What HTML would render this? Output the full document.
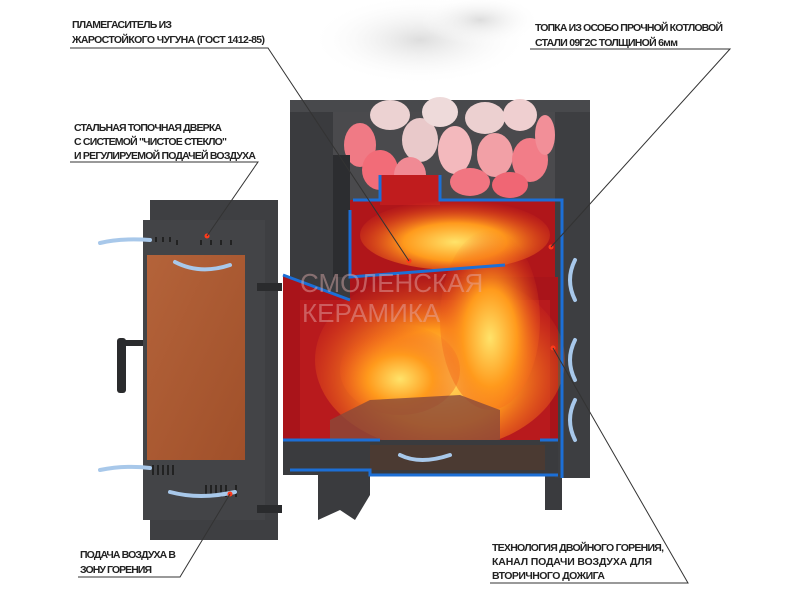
<!DOCTYPE html>
<html><head><meta charset="utf-8"><style>
html,body{margin:0;padding:0;background:#fff;width:800px;height:600px;overflow:hidden}
svg{display:block}
.t{font-family:"Liberation Sans",sans-serif;font-weight:bold;font-size:10.5px;fill:#222}
</style></head><body>
<svg width="800" height="600" viewBox="0 0 800 600" xmlns="http://www.w3.org/2000/svg">
<defs>
<radialGradient id="fire" cx="0.5" cy="0.6" r="0.6">
<stop offset="0" stop-color="#ffe36a"/><stop offset="0.45" stop-color="#ff9a1c"/><stop offset="1" stop-color="#e8401a" stop-opacity="0"/>
</radialGradient>
<radialGradient id="smoke" cx="0.5" cy="0.5" r="0.5">
<stop offset="0" stop-color="#ddd"/><stop offset="1" stop-color="#fff" stop-opacity="0"/>
</radialGradient>
<linearGradient id="glass" x1="0" y1="0" x2="1" y2="1"><stop offset="0" stop-color="#b4633a"/><stop offset="1" stop-color="#a0502a"/></linearGradient>
</defs>
<ellipse cx="420" cy="40" rx="110" ry="45" fill="url(#smoke)"/>
<ellipse cx="480" cy="20" rx="60" ry="25" fill="url(#smoke)"/>
<path d="M290 100 L590 100 L590 478 L562 478 L562 510 L545 510 L545 470 L370 470 L370 495 L355 520 L340 510 L318 520 L318 470 L290 470 Z" fill="#3a3b3e"/>
<rect x="290" y="100" width="300" height="12" fill="#48494c"/>
<rect x="333" y="112" width="230" height="90" fill="#4a4a4d"/>
<g>
<ellipse cx="360" cy="145" rx="16" ry="22" fill="#f07a85"/>
<ellipse cx="380" cy="170" rx="18" ry="20" fill="#f26c78"/>
<ellipse cx="390" cy="115" rx="20" ry="15" fill="#ecd2d2"/>
<ellipse cx="420" cy="140" rx="18" ry="22" fill="#e9c9ca"/>
<ellipse cx="410" cy="175" rx="16" ry="18" fill="#f08a94"/>
<ellipse cx="440" cy="112" rx="18" ry="15" fill="#eedada"/>
<ellipse cx="455" cy="150" rx="17" ry="24" fill="#f3b9bd"/>
<ellipse cx="485" cy="118" rx="20" ry="16" fill="#ecd0d0"/>
<ellipse cx="495" cy="155" rx="18" ry="22" fill="#f2a0a6"/>
<ellipse cx="470" cy="182" rx="20" ry="14" fill="#f17581"/>
<ellipse cx="520" cy="115" rx="17" ry="16" fill="#efcfd0"/>
<ellipse cx="530" cy="160" rx="18" ry="22" fill="#f27d88"/>
<ellipse cx="510" cy="185" rx="18" ry="13" fill="#f06674"/>
<ellipse cx="545" cy="135" rx="10" ry="20" fill="#f28f98"/>
</g>
<rect x="350" y="200" width="212" height="77" fill="#b0161a"/>
<rect x="380" y="175" width="60" height="30" fill="#c01c1e"/>
<rect x="333" y="155" width="17" height="122" fill="#2c2d30"/>
<rect x="555" y="112" width="35" height="366" fill="#3d3e41"/>
<path d="M283 275 L350 300 L350 277 L558 277 L558 440 L283 440 Z" fill="#a9141a"/>
<rect x="300" y="300" width="250" height="140" fill="#b81a1d"/>
<ellipse cx="440" cy="360" rx="125" ry="90" fill="url(#fire)"/>
<ellipse cx="455" cy="235" rx="95" ry="35" fill="url(#fire)"/>
<ellipse cx="490" cy="320" rx="50" ry="90" fill="url(#fire)"/>
<ellipse cx="400" cy="370" rx="60" ry="45" fill="url(#fire)"/>
<path d="M330 420 L370 400 L460 395 L500 410 L500 440 L330 440 Z" fill="#8a4a3a" opacity="0.8"/>
<rect x="283" y="440" width="275" height="35" fill="#3a3b3e"/>
<rect x="370" y="445" width="175" height="25" fill="#4b3a32"/>
<g fill="none" stroke="#1c6fd6" stroke-width="3">
<path d="M350 210 L350 277 L505 265"/>
<path d="M353 200 L380 200 L380 175 M440 175 L440 200 L562 200 L562 440"/>
<path d="M283 275 L350 300"/>
<path d="M283 440 L380 440 M540 440 L558 440"/>
<path d="M290 470 L370 470 L370 475 L558 475"/>
<path d="M562 440 L562 478"/>
</g>
<rect x="150" y="200" width="128" height="340" fill="#3e3f42"/>
<rect x="143" y="220" width="122" height="300" fill="#434447"/>
<rect x="147" y="255" width="98" height="205" fill="url(#glass)"/>
<rect x="257" y="283" width="25" height="8" fill="#2a2b2d"/>
<rect x="257" y="505" width="25" height="8" fill="#2a2b2d"/>
<rect x="118" y="340" width="25" height="6" fill="#2a2b2d"/>
<rect x="117" y="338" width="9" height="55" rx="3" fill="#2a2b2d"/>
<g fill="#222">
<rect x="155" y="237" width="2" height="5"/><rect x="162" y="237" width="2" height="5"/><rect x="169" y="237" width="2" height="5"/>
<rect x="176" y="240" width="2" height="5"/><rect x="200" y="240" width="2" height="5"/><rect x="210" y="240" width="2" height="5"/><rect x="220" y="240" width="2" height="5"/><rect x="230" y="240" width="2" height="5"/>
<rect x="152" y="465" width="2" height="10"/><rect x="157" y="465" width="2" height="10"/><rect x="162" y="465" width="2" height="10"/><rect x="167" y="465" width="2" height="10"/><rect x="172" y="465" width="2" height="10"/>
<rect x="205" y="485" width="2" height="12"/><rect x="210" y="485" width="2" height="12"/><rect x="215" y="485" width="2" height="12"/><rect x="220" y="485" width="2" height="12"/><rect x="225" y="485" width="2" height="12"/><rect x="235" y="485" width="2" height="12"/>
</g>
<g fill="none" stroke="#a8c8ea" stroke-width="4" stroke-linecap="round">
<path d="M100 243 Q120 238 150 240"/>
<path d="M175 262 Q200 275 230 265"/>
<path d="M100 470 Q125 465 150 468"/>
<path d="M170 492 Q200 500 235 492"/>
<path d="M575 380 Q565 360 575 340"/>
<path d="M575 300 Q565 280 575 260"/>
<path d="M575 440 Q565 420 575 400"/>
<path d="M400 455 Q420 465 450 455"/>
</g>
<text x="300" y="292" font-family="Liberation Sans,sans-serif" font-size="26" fill="#e6b0b0" opacity="0.45">СМОЛЕНСКАЯ</text>
<text x="302" y="322" font-family="Liberation Sans,sans-serif" font-size="26" fill="#e6b0b0" opacity="0.45">КЕРАМИКА</text>
<g fill="#ff3a1a"><circle cx="409" cy="261" r="2.5"/><circle cx="551" cy="247" r="2.5"/><circle cx="207" cy="236" r="2.5"/><circle cx="230" cy="494" r="2.5"/><circle cx="553" cy="348" r="2.5"/></g>
<g stroke="#333" stroke-width="1" fill="none">
<path d="M70 48 L268 48 L409 261"/>
<path d="M530 49 L730 49 L551 247"/>
<path d="M70 162 L258 162 L207 236"/>
<path d="M78 577 L180 577 L230 494"/>
<path d="M490 583 L688 583 L553 348"/>
</g>
<g class="t">
<text x="72" y="28" textLength="100">ПЛАМЕГАСИТЕЛЬ ИЗ</text>
<text x="72" y="43" textLength="193">ЖАРОСТОЙКОГО ЧУГУНА (ГОСТ 1412-85)</text>
<text x="535" y="31" textLength="188">ТОПКА ИЗ ОСОБО ПРОЧНОЙ КОТЛОВОЙ</text>
<text x="535" y="46" textLength="143">СТАЛИ 09Г2С ТОЛЩИНОЙ 6мм</text>
<text x="74" y="131" textLength="148">СТАЛЬНАЯ ТОПОЧНАЯ ДВЕРКА</text>
<text x="74" y="145" textLength="153">С СИСТЕМОЙ "ЧИСТОЕ СТЕКЛО"</text>
<text x="74" y="159" textLength="182">И РЕГУЛИРУЕМОЙ ПОДАЧЕЙ ВОЗДУХА</text>
<text x="80" y="558" textLength="96">ПОДАЧА ВОЗДУХА В</text>
<text x="80" y="573" textLength="72">ЗОНУ ГОРЕНИЯ</text>
<text x="492" y="551" textLength="172">ТЕХНОЛОГИЯ ДВОЙНОГО ГОРЕНИЯ,</text>
<text x="492" y="565" textLength="160">КАНАЛ ПОДАЧИ ВОЗДУХА ДЛЯ</text>
<text x="492" y="579" textLength="113">ВТОРИЧНОГО ДОЖИГА</text>
</g>
</svg>
</body></html>
